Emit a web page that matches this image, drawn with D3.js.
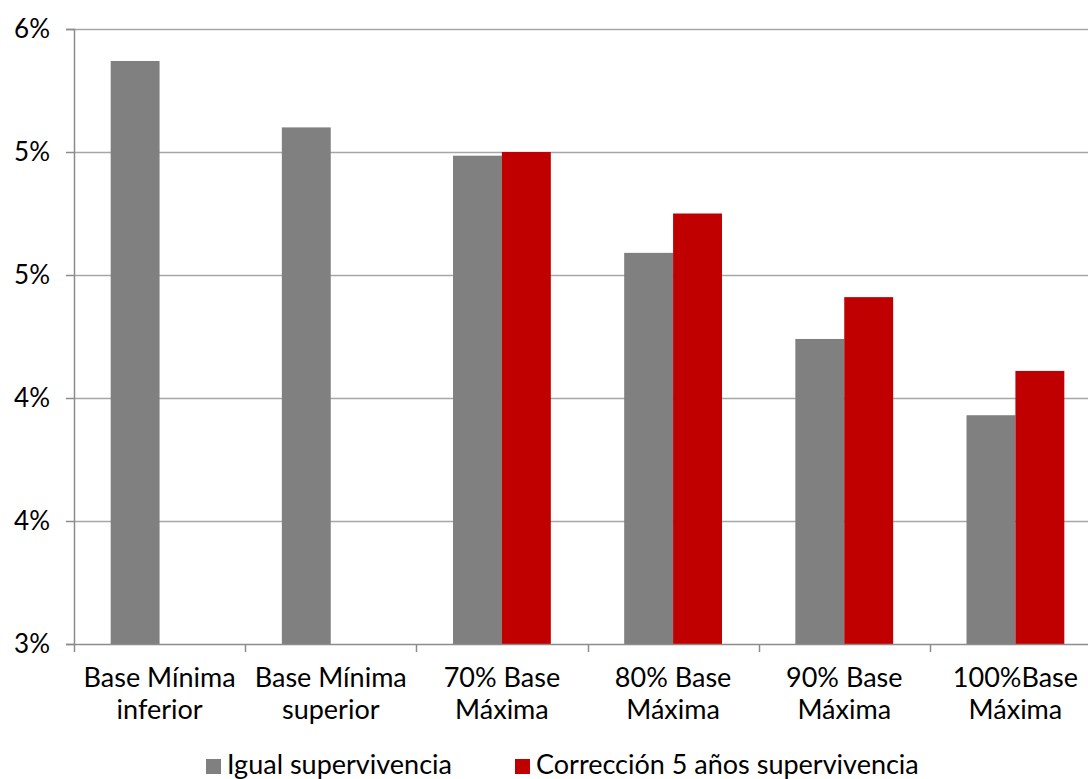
<!DOCTYPE html>
<html>
<head>
<meta charset="utf-8">
<script src="https://cdn.jsdelivr.net/npm/d3@7"></script>
<style>
  html, body { margin: 0; padding: 0; background: #fff; }
  svg { display: block; }
  text { font-family: "Lato", "DejaVu Sans", sans-serif; fill: #000; }
</style>
</head>
<body>
<svg id="chart" width="1088" height="779"></svg>
<script>
// Category labels (two lines each)
const categories = [
  "Base Mínima|inferior",
  "Base Mínima|superior",
  "70% Base|Máxima",
  "80% Base|Máxima",
  "90% Base|Máxima",
  "100%Base|Máxima"
];

const seriesNames = ["Igual supervivencia", "Corrección 5 años supervivencia"];
const seriesColors = ["#808080", "#C00000"];

// Values in percent
const igualSupervivencia = [5.37, 5.10, 4.985, 4.59, 4.24, 3.93];
const correccion5Anos = [null, null, 5.0, 4.75, 4.41, 4.11];

// Axis ticks and their (rounded) labels
const yTickValues = [3.0, 3.5, 4.0, 4.5, 5.0, 5.5];
const yTickLabels = ["3%", "4%", "4%", "5%", "5%", "6%"];

const svg = d3.select("#chart");

const plot = { left: 74, right: 1101, top: 29, bottom: 644 };

const y = d3.scaleLinear().domain([3.0, 5.5]).range([plot.bottom, plot.top]);
const x = d3.scaleBand().domain(categories).range([plot.left, plot.right]).paddingInner(0).paddingOuter(0);
const xSub = d3.scaleBand().domain(seriesNames).range([0, x.bandwidth()]).paddingInner(0).paddingOuter(0.75);

// Horizontal gridlines
svg.append("g")
  .selectAll("line")
  .data(yTickValues.slice(1))
  .join("line")
  .attr("x1", plot.left).attr("x2", plot.right)
  .attr("y1", d => Math.round(y(d)) + 0.5).attr("y2", d => Math.round(y(d)) + 0.5)
  .attr("stroke", "#a6a6a6").attr("stroke-width", 1.5);

// Bars
const seriesData = [igualSupervivencia, correccion5Anos];
const barGroup = svg.append("g");
seriesNames.forEach((name, si) => {
  const rows = categories.map((c, i) => ({ cat: c, v: seriesData[si][i] })).filter(d => d.v != null);
  barGroup.append("g")
    .selectAll("rect")
    .data(rows)
    .join("rect")
    .attr("x", d => x(d.cat) + xSub(name))
    .attr("width", xSub.bandwidth())
    .attr("y", d => y(d.v))
    .attr("height", d => y(3.0) - y(d.v))
    .attr("fill", seriesColors[si]);
});

// Y axis
const yAxis = d3.axisLeft(y)
  .tickValues(yTickValues)
  .tickFormat((d, i) => yTickLabels[i])
  .tickSize(8)
  .tickPadding(16);
const gy = svg.append("g").attr("transform", `translate(${plot.left},0)`).call(yAxis);
gy.select(".domain").attr("stroke", "#8c8c8c").attr("stroke-width", 1.5);
gy.selectAll(".tick line").attr("stroke", "#8c8c8c").attr("stroke-width", 1.5);
gy.selectAll(".tick text").attr("font-size", 26).attr("fill", "#000")
  .style("font-family", '"Lato", "DejaVu Sans", sans-serif');

// X axis baseline with tick marks at band boundaries
svg.append("line")
  .attr("x1", plot.left).attr("x2", plot.right)
  .attr("y1", plot.bottom + 0.5).attr("y2", plot.bottom + 0.5)
  .attr("stroke", "#8c8c8c").attr("stroke-width", 1.5);
svg.append("g")
  .selectAll("line")
  .data(categories.map(c => x(c)).concat([plot.right]))
  .join("line")
  .attr("x1", d => Math.round(d) + 0.5).attr("x2", d => Math.round(d) + 0.5)
  .attr("y1", plot.bottom).attr("y2", plot.bottom + 8)
  .attr("stroke", "#8c8c8c").attr("stroke-width", 1.5);

// Category labels
const catLabels = svg.append("g")
  .selectAll("text")
  .data(categories)
  .join("text")
  .attr("text-anchor", "middle")
  .attr("font-size", 27)
  .attr("transform", d => `translate(${x(d) + x.bandwidth() / 2},0)`);
catLabels.each(function(d) {
  const lines = d.split("|");
  d3.select(this).selectAll("tspan")
    .data(lines)
    .join("tspan")
    .attr("x", 0)
    .attr("y", (l, i) => 687 + i * 32)
    .text(l => l);
});

// Legend
const legendItems = [
  { name: seriesNames[0], color: seriesColors[0], x: 206 },
  { name: seriesNames[1], color: seriesColors[1], x: 515 }
];
const lg = svg.append("g")
  .selectAll("g")
  .data(legendItems)
  .join("g")
  .attr("transform", d => `translate(${d.x},0)`);
lg.append("rect").attr("x", 0).attr("y", 759).attr("width", 15).attr("height", 15).attr("fill", d => d.color);
lg.append("text").attr("x", 21).attr("y", 774).attr("font-size", 27).text(d => d.name);
</script>
</body>
</html>
